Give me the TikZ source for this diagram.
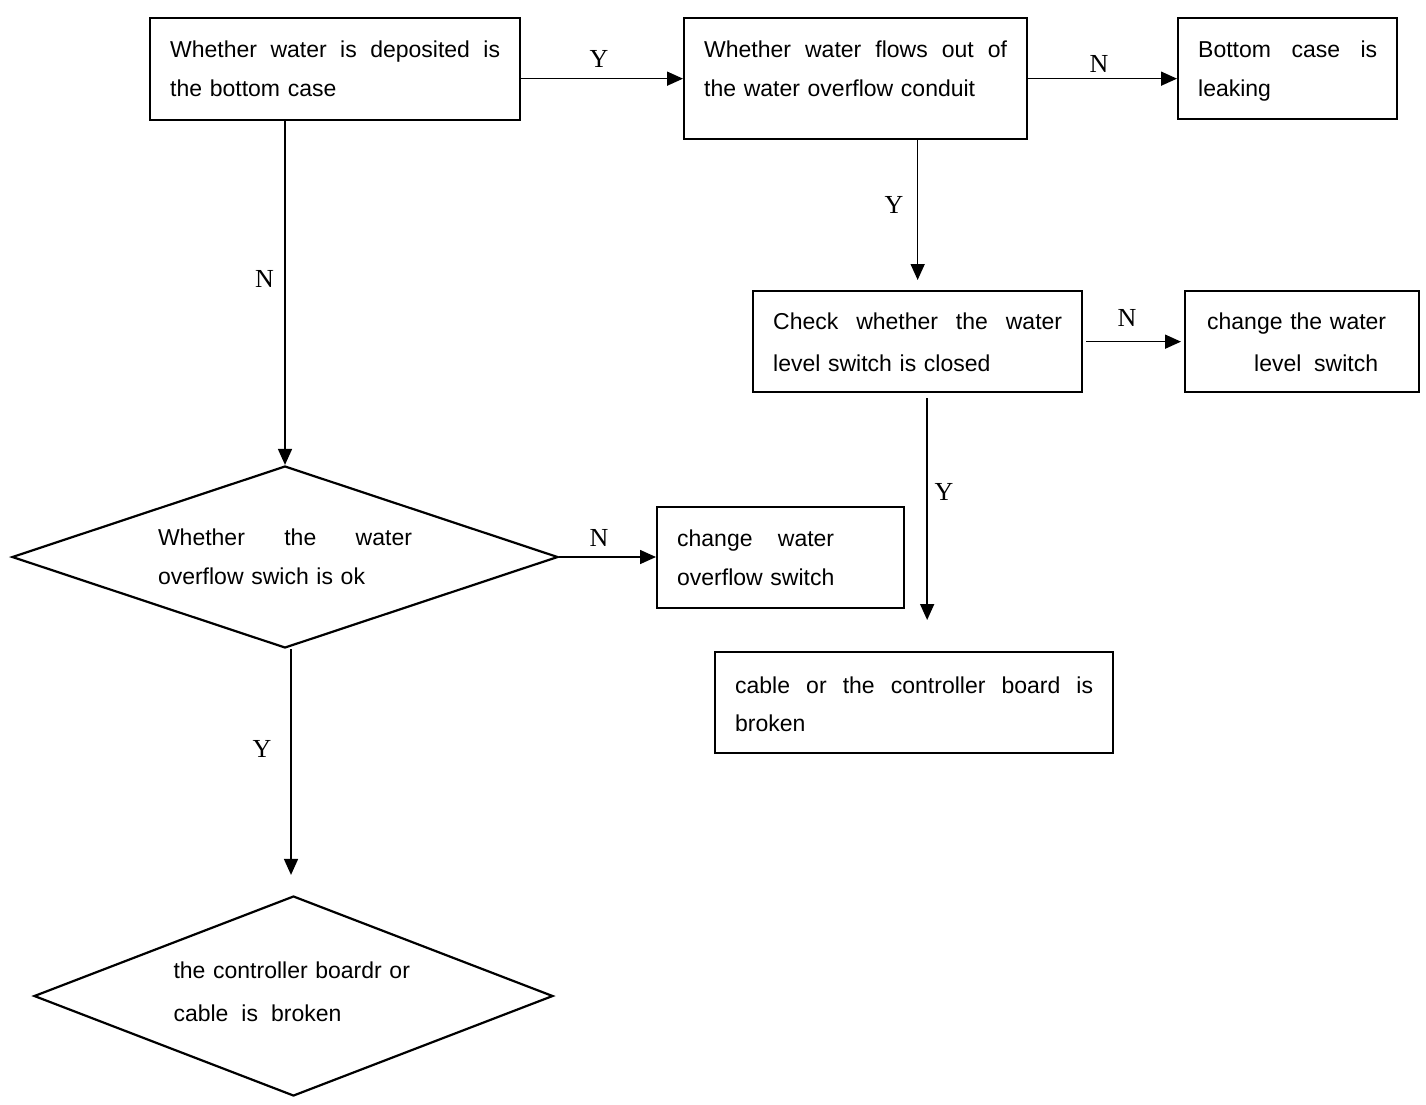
\documentclass[tikz,border=0pt]{standalone}
\usepackage{fontspec}
\setmainfont{Liberation Sans}
\newfontfamily\labserif{Liberation Serif}
\usetikzlibrary{shapes.geometric,arrows.meta}
\newcommand\jline[2][\linewidth]{\makebox[#1][s]{\spaceskip=0.25em plus 1fil\relax #2}}
\begin{document}
\begin{tikzpicture}[x=1pt,y=-1pt,
  box/.style={draw, line width=2.3pt, anchor=north west, inner xsep=20pt, inner ysep=0pt, align=left, font=\fontsize{23}{39}\selectfont},
  dia/.style={draw, shape=diamond, line width=2.2pt, inner sep=0pt, align=left, font=\fontsize{23}{39}\selectfont},
  arr/.style={line width=1.6pt, -{Triangle[length=16pt,width=14pt]}},
  lab/.style={font=\labserif\fontsize{26}{26}\selectfont, inner sep=0pt}]
\useasboundingbox (0,0) rectangle (1426,1104);

\node[box, text width=330pt, text height=39pt, text depth=63pt] (A) at (149,17)
  {\jline{Whether water is deposited is}\\the bottom case};
\node[box, text width=303pt, text height=39pt, text depth=82pt] (B) at (683,17)
  {\jline{Whether water flows out of}\\the water overflow conduit};
\node[box, text width=179pt, text height=39pt, text depth=62pt] (C) at (1177,17)
  {\jline{Bottom case is}\\leaking};
\node[box, text width=289pt, text height=38pt, text depth=63pt, font=\fontsize{23}{42}\selectfont] (D) at (752,290)
  {\jline{Check whether the water}\\level switch is closed};
\node[box, text width=194pt, text height=38pt, text depth=63pt, font=\fontsize{23}{42}\selectfont] (E) at (1184,290)
  {\hspace*{2pt}change the water\\\hspace*{49pt}\jline[124pt]{level switch}};
\node[dia, aspect=3, minimum width=546pt, minimum height=182pt, text width=254pt, text height=16pt, text depth=40pt] (F) at (285,557)
  {\jline{Whether the water}\\overflow swich is ok};
\node[box, text width=207pt, text height=39pt, text depth=62pt] (G) at (656,506)
  {\jline[157pt]{change water}\\overflow switch};
\node[box, text width=358pt, text height=41pt, text depth=60pt, font=\fontsize{23}{38}\selectfont] (H) at (714,651)
  {\jline{cable or the controller board is}\\broken};
\node[dia, aspect=2.6, minimum width=519pt, minimum height=200pt, text width=240pt, text height=16pt, text depth=52pt, font=\fontsize{23}{43}\selectfont] (I) at (293.5,996)
  {the controller boardr or\\\jline[168pt]{cable is broken}};

\draw[arr] (A.east |- B.west) -- (B.west);
\draw[arr] (B.east) -- (B.east -| C.west);
\draw[arr, shorten >=10pt] (B.south -| D.north) -- (D.north);
\draw[arr, shorten <=3pt, shorten >=3pt] (D.east) -- (E.west);
\draw[arr, shorten <=5pt, shorten >=31pt] ([xshift=9.5pt]D.south) -- ([xshift=9.5pt]D.south |- H.north);
\draw[arr] (A.south -| F.north) -- (F.north);
\draw[arr] (F.east) -- (F.east -| G.west);
\draw[arr, shorten >=20pt] ([xshift=6pt]F.south) -- ([xshift=6pt]F.south |- I.north);

\node[lab] (l1) at (599,59) {Y};
\node[lab] (l2) at (1099,64) {N};
\node[lab] (l3) at (894,205) {Y};
\node[lab] (l4) at (1127,318) {N};
\node[lab] (l5) at (944,492) {Y};
\node[lab] (l6) at (264.5,279) {N};
\node[lab] (l7) at (599,538) {N};
\node[lab] (l8) at (262,749) {Y};
\end{tikzpicture}
\end{document}
